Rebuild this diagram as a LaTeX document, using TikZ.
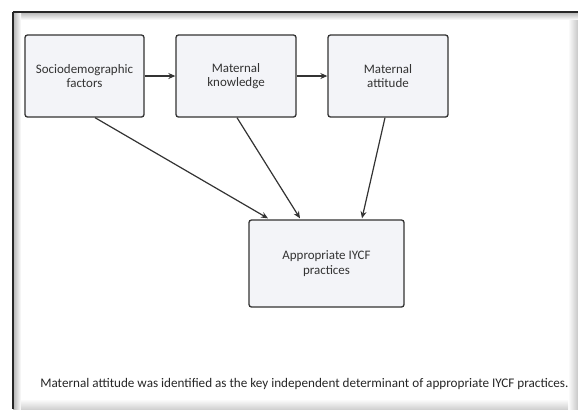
\documentclass[tikz,border=0pt]{standalone}
\usepackage{fontspec}
\setmainfont{Carlito}
\usetikzlibrary{arrows.meta,calc}
\begin{document}
\begin{tikzpicture}[x=1bp,y=-1bp,
  box/.style={draw=black!80, line width=1.3bp, fill=boxfill, rounded corners=2.5bp, inner sep=0pt, font=\fontsize{13}{14.5}\selectfont, align=center, text=black!80},
  conn/.style={draw=black!80, line width=1.2bp, -{Stealth[length=7bp,width=6bp]}}]
\definecolor{boxfill}{HTML}{F3F4F8}
\useasboundingbox (0,0) rectangle (578,409);
\fill[white] (0,0) rectangle (578,409);
% frame with inner shadow
\shade[top color=black!30, bottom color=white] (13,12) rectangle (578,20);
\shade[left color=black!30, right color=white] (13,12) rectangle (21,409);
\shade[left color=white, right color=black!22] (568,20) rectangle (578,409);
\shade[top color=white, bottom color=black!18] (21,399) rectangle (568,409);
\draw[black!85, line width=1.6bp] (13,12) -- (578,12);
\draw[black!85, line width=1.6bp] (13,12) -- (13,409);
\node[box, minimum width=119bp, minimum height=82bp] (soc) at (84.5,76) {Sociodemographic\\factors};
\node[box, minimum width=120bp, minimum height=82bp] (kno) at (236,76) {Maternal\\knowledge};
\node[box, minimum width=120bp, minimum height=82bp] (att) at (388,76) {Maternal\\attitude};
\node[box, minimum width=155bp, minimum height=87bp] (iycf) at (326.5,263.5) {Appropriate IYCF\\practices};
\draw[conn] (soc) -- (kno);
\draw[conn] (kno) -- (att);
\draw[conn] ($(soc.south)+(10.5,0)$) -- ($(iycf.north)+(-58.5,-1)$);
\draw[conn] ($(kno.south)+(1,0)$) -- ($(iycf.north)+(-26.5,-1)$);
\draw[conn] ($(att.south)+(-3,0)$) -- ($(iycf.north)+(35.5,-1)$);
\node[font=\fontsize{13.2}{15}\selectfont, text=black!85, anchor=east] (cap) at (572,384) {Maternal attitude was identified as the key independent determinant of appropriate IYCF practices.};
\end{tikzpicture}
\end{document}
